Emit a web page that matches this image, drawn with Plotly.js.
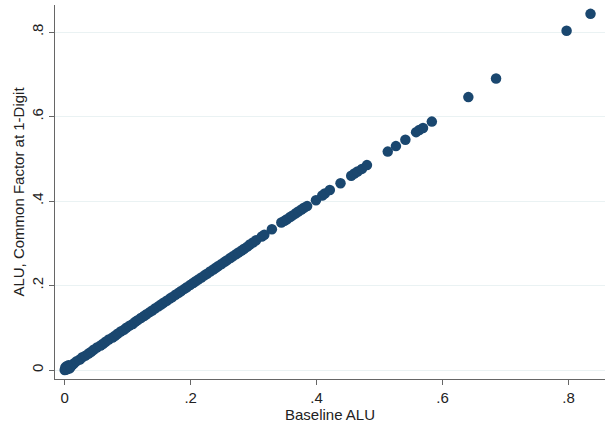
<!DOCTYPE html>
<html>
<head>
<meta charset="utf-8">
<script src="https://cdn.plot.ly/plotly-3.0.1.min.js"></script>
<style>html,body{margin:0;padding:0;background:#fff;}#chart{width:606px;height:430px;}</style>
</head>
<body>
<div id="chart"></div>
<script>
// Baseline ALU (x) and ALU, Common Factor at 1-Digit (y)
const baselineALU = [
  0.000, 0.001, 0.003, 0.004, 0.006, 0.008, 0.010, 0.012, 0.002, 0.005, 0.009,
  0.015, 0.019, 0.024, 0.028, 0.033, 0.038, 0.042, 0.046, 0.051, 0.057, 0.061,
  0.065, 0.070, 0.076, 0.080, 0.084, 0.089, 0.094, 0.098, 0.103, 0.108, 0.112,
  0.116, 0.121, 0.126, 0.130, 0.135, 0.139, 0.144, 0.149, 0.153, 0.157, 0.162,
  0.167, 0.171, 0.176, 0.181, 0.185, 0.190, 0.194, 0.199, 0.204, 0.208, 0.212,
  0.217, 0.222, 0.226, 0.231, 0.236, 0.240, 0.244, 0.249, 0.254, 0.258, 0.263,
  0.267, 0.272, 0.276, 0.281, 0.285, 0.290, 0.294, 0.299,
  0.304, 0.313, 0.317, 0.329, 0.344, 0.349, 0.353, 0.358, 0.362, 0.367, 0.371,
  0.376, 0.380, 0.385, 0.399, 0.409, 0.413, 0.421, 0.438, 0.455, 0.460, 0.465,
  0.472, 0.480, 0.513, 0.526, 0.541, 0.558, 0.563, 0.569, 0.583, 0.641, 0.685,
  0.797, 0.835
];
const commonFactorALU = [
  0.000, 0.006, 0.009, 0.002, 0.011, 0.004, 0.010, 0.012, 0.001, 0.003, 0.007,
  0.016, 0.021, 0.025, 0.030, 0.034, 0.039, 0.043, 0.048, 0.053, 0.058, 0.062,
  0.067, 0.072, 0.077, 0.081, 0.086, 0.091, 0.095, 0.100, 0.105, 0.109, 0.114,
  0.118, 0.123, 0.128, 0.132, 0.137, 0.141, 0.146, 0.151, 0.155, 0.159, 0.164,
  0.169, 0.173, 0.178, 0.183, 0.187, 0.192, 0.196, 0.201, 0.206, 0.210, 0.214,
  0.219, 0.224, 0.228, 0.233, 0.238, 0.242, 0.246, 0.251, 0.256, 0.260, 0.265,
  0.269, 0.274, 0.278, 0.283, 0.287, 0.292, 0.297, 0.302,
  0.307, 0.316, 0.320, 0.333, 0.349, 0.353, 0.357, 0.362, 0.366, 0.371, 0.375,
  0.380, 0.384, 0.388, 0.402, 0.413, 0.418, 0.426, 0.442, 0.460, 0.465, 0.470,
  0.476, 0.485, 0.517, 0.530, 0.545, 0.563, 0.568, 0.573, 0.588, 0.646, 0.690,
  0.803, 0.843
];
const tickValues = [0, 0.2, 0.4, 0.6, 0.8];
const tickLabels = ["0", ".2", ".4", ".6", ".8"];

const font = {family: "Liberation Sans, Arial, sans-serif", size: 15, color: "#222"};

Plotly.newPlot("chart", [{
  type: "scatter",
  mode: "markers",
  x: baselineALU,
  y: commonFactorALU,
  marker: {color: "#1a476f", size: 10.5, line: {width: 0}},
  hoverinfo: "skip"
}], {
  width: 606, height: 430,
  margin: {l: 55, r: 1, t: 5, b: 51},
  paper_bgcolor: "#fff", plot_bgcolor: "#fff",
  showlegend: false,
  font: font,
  xaxis: {
    range: [-0.0154, 0.858],
    tickvals: tickValues, ticktext: tickLabels,
    ticks: "outside", ticklen: 5, tickcolor: "#666", tickwidth: 1,
    showline: true, linecolor: "#666", linewidth: 1,
    showgrid: false, zeroline: false,
    tickfont: font,
    title: {text: "Baseline ALU", font: font, standoff: 3}
  },
  yaxis: {
    range: [-0.0213, 0.864],
    tickvals: tickValues, ticktext: tickLabels,
    tickangle: -90,
    ticks: "outside", ticklen: 5, tickcolor: "#666", tickwidth: 1,
    showline: true, linecolor: "#666", linewidth: 1,
    showgrid: true, gridcolor: "#eaf2f3", gridwidth: 1,
    zeroline: false,
    tickfont: font,
    title: {text: "ALU, Common Factor at 1-Digit", font: font, standoff: 0}
  }
}, {displayModeBar: false, staticPlot: true});
</script>
</body>
</html>
